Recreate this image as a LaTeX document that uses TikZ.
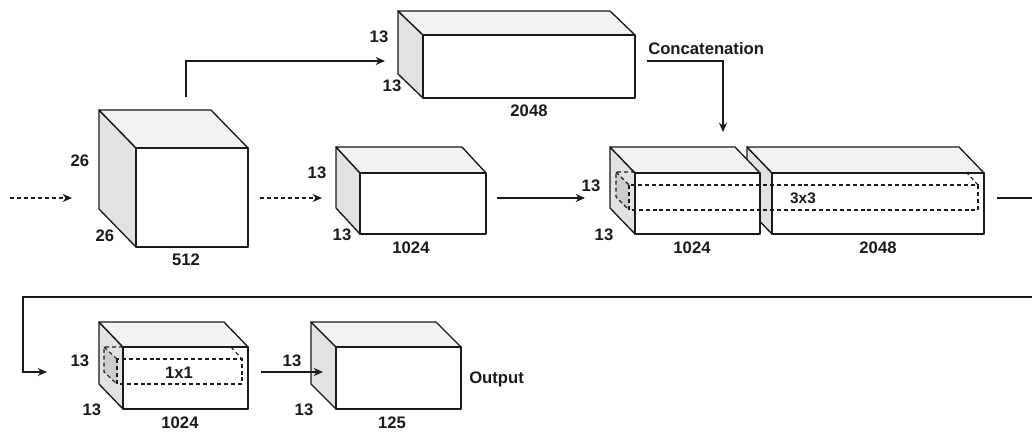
\documentclass[tikz,border=0pt]{standalone}
\usepackage{fontspec}
\setmainfont{Liberation Sans}
\usepackage{tikz}
\usetikzlibrary{arrows.meta,positioning,calc}
\definecolor{topgray}{RGB}{242,242,242}
\definecolor{sidegray}{RGB}{226,226,226}
\definecolor{kernelgray}{RGB}{204,204,204}
\definecolor{edge}{RGB}{26,26,26}

% name, front x, front y, width, height, depth x, depth y
\newcommand\cuboid[7]{%
  \filldraw[face, fill=sidegray] (#2,#3) -- ++(-#6,-#7) -- ++(0,#5) -- ++(#6,#7) -- cycle;
  \filldraw[face, fill=topgray] (#2,#3) -- ++(-#6,-#7) -- ++(#4,0) -- ++(#6,#7) -- cycle;
  \filldraw[face, fill=white] (#2,#3) rectangle ++(#4,#5);
  \coordinate (#1) at (#2,#3);
}

\begin{document}
\begin{tikzpicture}[x=0.75pt, y=-0.75pt,
    font=\fontsize{12.5}{14}\selectfont\bfseries,
    face/.style={draw=edge, line width=1pt, line join=round},
    lbl/.style={inner sep=0pt, text=edge},
    conn/.style={-{Stealth[length=7pt,width=6pt]}, line width=0.9pt, draw=edge},
    dconn/.style={conn, dash pattern=on 3pt off 2.2pt},
    kernel/.style={draw=edge, line width=0.8pt, dash pattern=on 3pt off 2.2pt}]
  \clip (0,0) rectangle (1032,433);

  % feature maps
  \cuboid{fm512}{136}{148}{112}{99}{37}{38}
  \cuboid{fm2048a}{423}{35}{212}{63}{25}{24}
  \cuboid{fm1024a}{360}{173}{126}{61}{24}{26}
  \cuboid{fm2048b}{772}{173}{212}{61}{25}{26}
  \cuboid{fm1024b}{635}{173}{125}{61}{25}{26}
  \cuboid{fm1024c}{123}{347}{125}{62}{24}{25}
  \cuboid{fm125}{336}{347}{125}{62}{25}{25}

  % 3x3 kernel
  \fill[kernelgray] (616,172) -- (629,185) -- (629,210) -- (616,197) -- cycle;
  \draw[kernel] (635,172) -- (616,172) -- (616,197) -- (629,210);
  \draw[kernel] (616,172) -- (629,185);
  \draw[kernel] (629,185) rectangle (978,210);
  \draw[kernel] (966,172) -- (978,185);
  % 1x1 kernel
  \fill[kernelgray] (104,347) -- (117,359) -- (117,384) -- (104,372) -- cycle;
  \draw[kernel] (123,347) -- (104,347) -- (104,372) -- (117,384);
  \draw[kernel] (104,347) -- (117,359);
  \draw[kernel] (117,359) rectangle (242,384);
  \draw[kernel] (231,347) -- (242,359);

  % labels
  \node[lbl] (d512a) at (80,161) {26};
  \node[lbl] (d512b) at (105,236) {26};
  \node[lbl] (c512) at (186,260) {512};
  \node[lbl] (d2048a) at (379,37) {13};
  \node[lbl] (d2048b) at (392,86) {13};
  \node[lbl] (c2048a) at (529,111) {2048};
  \node[lbl] (d1024a) at (317,173) {13};
  \node[lbl] (d1024b) at (342,235) {13};
  \node[lbl] (c1024a) at (411,248) {1024};
  \node[lbl] (dcata) at (591,186) {13};
  \node[lbl] (dcatb) at (604,235) {13};
  \node[lbl] (c1024b) at (692,248) {1024};
  \node[lbl] (c2048b) at (878,248) {2048};
  \node[lbl, font=\fontsize{11.5}{13}\selectfont\bfseries] (k3) at (803,198) {3x3};
  \node[lbl] (d1024c) at (80,361) {13};
  \node[lbl] (d1024d) at (92,410) {13};
  \node[lbl] (c1024c) at (180,423) {1024};
  \node[lbl] (k1) at (179,373) {1x1};
  \node[lbl] (d125a) at (292,361) {13};
  \node[lbl] (d125b) at (304,410) {13};
  \node[lbl] (c125) at (392,423) {125};
  \node[lbl, anchor=west] (concat) at (648,49) {Concatenation};
  \node[lbl, anchor=west] (output) at (469,379) {Output};

  % connectors
  \coordinate (in0) at (10,198);
  \coordinate (in1) at (72,198);
  \coordinate (up1) at (186,97);
  \coordinate (in2) at (385,61);
  \coordinate (out1) at (260,198);
  \coordinate (in3) at (322,198);
  \coordinate (out3) at (497,198);
  \coordinate (in4) at (585,198);
  \coordinate (out2) at (647,61);
  \coordinate (in5) at (723,132);
  \coordinate (out5) at (997,198);
  \coordinate (turn) at (1045,297);
  \coordinate (in6) at (47,372);
  \coordinate (out6) at (261,372);
  \coordinate (in7) at (323,372);

  \draw[dconn] (in0) -- (in1);
  \draw[dconn] (out1) -- (in3);
  \draw[conn] (up1) |- (in2);
  \draw[conn] (out3) -- (in4);
  \draw[conn] (out2) -| (in5);
  \draw[conn] (out5) -| (turn) -- (23,297) |- (in6);
  \draw[conn] (out6) -- (in7);
\end{tikzpicture}
\end{document}
